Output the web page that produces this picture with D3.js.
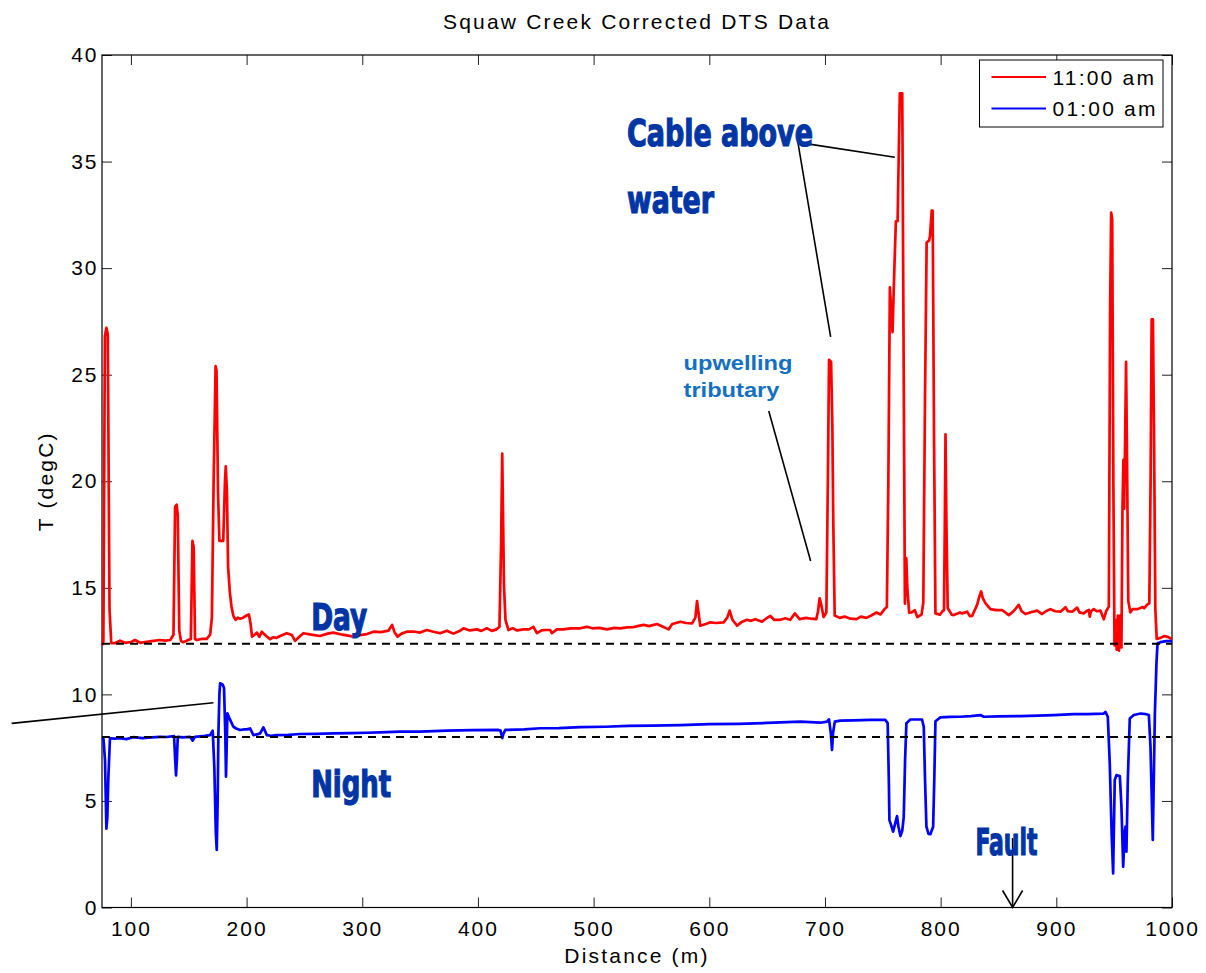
<!DOCTYPE html>
<html>
<head>
<meta charset="utf-8">
<script src="https://cdn.jsdelivr.net/npm/d3@7"></script>
<style>
  html, body { margin: 0; padding: 0; background: #fff; }
  svg { display: block; }
  .axis text { font-family: 'Liberation Sans', Arial, sans-serif; font-size: 21px; letter-spacing: 2px; fill: #000; }
  .axis line { stroke: #222; }
  .axis path { display: none; }
  .label { font-family: 'Liberation Sans', Arial, sans-serif; font-size: 21px; letter-spacing: 2.2px; fill: #000; }
  .note { font-family: 'DejaVu Sans Condensed', 'Liberation Sans Narrow', 'Liberation Sans', sans-serif; font-weight: bold; font-stretch: condensed; fill: #0035a5; stroke: #0035a5; stroke-width: 1.2px; font-size: 38px; }
  .note--small { font-family: 'Liberation Sans', Arial, sans-serif; font-weight: bold; fill: #1470c0; font-size: 21px; }
</style>
</head>
<body>
<svg id="chart"></svg>
<script>
// distance (m), temperature (degC)
const dayProfile = [
  [75, 12.3], [76.2, 12.5], [77.5, 26.8], [78.8, 27.2], [80, 26.9], [81.5, 14], [83, 12.4], [86, 12.4],
  [90.5, 12.52], [95, 12.42], [100, 12.45], [103.5, 12.55], [108, 12.42], [113.7, 12.47], [118, 12.5],
  [125, 12.55], [130, 12.52], [134, 12.55], [136.8, 12.8], [138.2, 18.8], [139.5, 18.9], [140.5, 18.4],
  [141.8, 13], [143.3, 12.5], [145.3, 12.45], [149.6, 12.55], [151.8, 12.6], [153.2, 17.2], [154.3, 16.9],
  [155.4, 12.6], [157, 12.55], [161, 12.6], [165.5, 12.6], [168.5, 12.8], [170, 13.6], [171.5, 20],
  [173.2, 25.4], [174, 25.2], [175.3, 19.5], [176.5, 17.2], [179.8, 17.2], [181.3, 20], [182, 20.7],
  [183, 19.5], [184, 16], [185.5, 14.8], [187, 14.1], [188.5, 13.7], [190.5, 13.5], [192.5, 13.6],
  [194.5, 13.55], [197, 13.6], [200, 13.7], [202, 13.75], [203.5, 13.3], [204.7, 12.71], [207, 12.8],
  [209, 12.9], [211, 12.7], [213.1, 12.94], [216, 12.79], [220.3, 12.59], [223.2, 12.68], [226, 12.65],
  [229, 12.74], [234.7, 12.87], [239.1, 12.79], [241.9, 12.51], [246.3, 12.74], [249.1, 12.87],
  [256, 12.8], [263.5, 12.74], [270, 12.85], [275, 12.9], [283, 12.8], [292.4, 12.71], [298, 12.78],
  [304, 12.83], [309.7, 12.94], [316, 12.92], [322.6, 12.99], [325.8, 13.26], [328, 12.9], [330.5, 12.71],
  [334, 12.85], [338.5, 12.94], [344.3, 12.95], [350, 12.9], [355.8, 13.02], [361.5, 12.94], [367.3, 12.87],
  [373.1, 12.99], [378.8, 12.85], [384.6, 12.99], [387.5, 13.1], [393, 13.0], [399.1, 13.05], [403, 12.98],
  [407.7, 13.1], [412, 12.98], [416, 13.05], [418.6, 13.17], [420, 17], [421, 21.3], [421.8, 18],
  [422.5, 15.1], [423.8, 13.5], [426.4, 13.02], [430, 13.1], [434, 13.0], [439.4, 13.05], [444, 13.05],
  [448, 13.17], [451, 12.87], [455, 13.0], [458, 13.02], [462.5, 13.02], [463.9, 12.87], [468.3, 13.05],
  [474, 13.05], [480, 13.1], [488.4, 13.1], [494.2, 13.17], [499, 13.1], [505, 13.12], [511.5, 13.05],
  [518, 13.12], [523, 13.1], [528.8, 13.14], [534, 13.15], [538, 13.2], [543.2, 13.26], [548, 13.2],
  [554.7, 13.3], [559, 13.2], [564.8, 13.05], [568, 13.3], [575, 13.41], [580, 13.35], [585.1, 13.33],
  [588, 13.6], [589.4, 14.38], [590.5, 13.9], [592.2, 13.22], [597, 13.3], [600.9, 13.38], [606, 13.35],
  [612.4, 13.38], [615.5, 13.6], [617.6, 13.93], [620, 13.5], [624, 13.22], [628, 13.4], [632.6, 13.5],
  [636, 13.45], [639.8, 13.53], [645.6, 13.41], [649, 13.55], [652.8, 13.68], [656, 13.5], [661.4, 13.5],
  [665.7, 13.57], [670, 13.5], [674, 13.8], [678, 13.53], [683.8, 13.59], [688, 13.55], [692.5, 13.53],
  [694, 13.9], [695.4, 14.51], [696.8, 14.2], [698.8, 13.63], [701.2, 13.84], [702.5, 20], [703.5, 25.7],
  [705.3, 25.6], [706.4, 22.5], [707.2, 18], [708.4, 13.7], [712.7, 13.59], [717, 13.65], [722, 13.55],
  [727.2, 13.53], [731, 13.65], [735.8, 13.59], [740, 13.7], [744.5, 13.84], [748, 13.75], [751.5, 14.0],
  [753.5, 14.1], [754.8, 20], [756.1, 29.1], [758.4, 27], [760, 30], [761.3, 32.2], [762.8, 32.2],
  [764, 36], [764.7, 38.2], [766.8, 38.2], [767.8, 28], [769.1, 14.26], [770.3, 16.4], [771.2, 15],
  [772.8, 13.84], [775, 13.85], [777.7, 13.95], [779.8, 13.63], [783.5, 13.74], [785, 14.3], [786.5, 24],
  [787.9, 31.2], [790, 31.3], [790.8, 31.5], [792.3, 32.7], [793.1, 32.7], [794.3, 22], [795.5, 13.8],
  [799.4, 13.74], [801.2, 13.88], [802.9, 13.95], [803.6, 18], [804.2, 22.2], [805, 18], [806.1, 14.05],
  [809.5, 13.74], [811.3, 13.72], [816.8, 13.84], [818.5, 13.8], [822.9, 13.88], [825.4, 13.67],
  [827.2, 13.68], [831.5, 14.2], [833.5, 14.6], [835, 14.83], [836.5, 14.5], [838.7, 14.28], [843, 14.0],
  [848, 13.95], [853.1, 13.96], [858.9, 13.72], [863, 13.9], [867.5, 14.2], [870, 13.9], [873.3, 13.77],
  [878, 13.85], [883.4, 13.93], [887.7, 13.77], [891, 13.9], [894.9, 14.0], [899, 13.9], [903.6, 13.88],
  [907.9, 14.09], [910, 13.9], [913.7, 13.88], [918, 14.07], [920, 13.85], [923.7, 13.8], [926, 13.9],
  [928.1, 13.96], [928.9, 13.65], [930, 13.9], [932.4, 14.0], [935, 13.9], [938.2, 13.93], [941, 13.52],
  [943, 13.9], [945.4, 14.12], [946.5, 28], [947.4, 32.6], [948.3, 32.3], [949.3, 20], [950.3, 12.3],
  [951.2, 13.5], [952.2, 12.1], [953.2, 13.7], [954.2, 12.05], [955.3, 13.7], [956.3, 12.2], [957.2, 18.8],
  [958, 21], [958.6, 18.7], [959.5, 22], [960.3, 25.6], [961.3, 20], [962.2, 14.4], [963.9, 13.85],
  [966, 14.0], [970.3, 14.0], [974.7, 14.1], [976, 14.05], [978.4, 14.2], [980.4, 14.28], [981.5, 20],
  [982.4, 27.6], [983.5, 27.6], [984.5, 22], [985.6, 14], [986.8, 12.6], [990, 12.65], [993.4, 12.74],
  [996, 12.7], [1000, 12.6]
];

const nightProfile = [
  [75, 7.95], [76.3, 7.9], [77.6, 6.9], [78.8, 3.7], [79.6, 4.2], [80.5, 6.1], [81.9, 7.94], [86, 7.92],
  [90.6, 7.94], [96, 7.9], [102.1, 7.99], [110, 7.95], [118, 7.98], [125.2, 8.01], [131, 8.0],
  [137.3, 8.04], [138.2, 7], [139, 6.2], [139.8, 7], [140.5, 8.01], [145, 7.98], [151.1, 8.01],
  [153.4, 7.83], [155.4, 8.01], [160, 8.03], [164, 8.05], [168.4, 8.09], [170.7, 8.3], [172.1, 6.6],
  [173.4, 3.5], [174.2, 2.7], [175, 5], [175.6, 8.1], [176.5, 10], [177.1, 10.52], [179.4, 10.45],
  [180.5, 10.3], [181.6, 8.1], [182.2, 6.14], [183.4, 9.11], [185, 8.9], [188.6, 8.48], [191, 8.4],
  [194.4, 8.33], [198, 8.36], [200.2, 8.36], [203, 8.4], [205.9, 8.09], [209, 8.12], [211.7, 8.17],
  [214.5, 8.45], [217.5, 8.09], [221, 8.06], [226.1, 8.09], [236, 8.1], [246.3, 8.14], [260, 8.15],
  [275, 8.17], [290, 8.18], [303.9, 8.2], [315.4, 8.22], [332.7, 8.25], [350, 8.25], [373.1, 8.3],
  [395, 8.32], [417.8, 8.33], [419.5, 8.3], [421, 7.95], [422, 8.15], [423.6, 8.33], [440, 8.36],
  [453.8, 8.41], [470, 8.42], [488.4, 8.46], [510, 8.48], [530, 8.52], [550, 8.53], [575, 8.56],
  [600, 8.6], [625, 8.62], [650, 8.66], [678.7, 8.72], [696, 8.67], [701.8, 8.72], [703.5, 8.83],
  [705, 8.2], [706.1, 7.4], [707, 8.2], [708.5, 8.72], [713.3, 8.77], [724.8, 8.78], [739.2, 8.8],
  [752.2, 8.8], [754.2, 8.65], [755.2, 6], [755.7, 4.1], [757, 3.9], [758.9, 3.56], [760.5, 3.9],
  [762.3, 4.29], [763.5, 3.8], [765.2, 3.35], [766.8, 3.6], [768.1, 4.25], [769.3, 7], [770.4, 8.65],
  [773.8, 8.82], [783.9, 8.82], [785.4, 8.48], [786.5, 6], [787.7, 3.79], [789.5, 3.45], [791.1, 3.44],
  [793.5, 3.79], [794.5, 6], [795.5, 8.74], [799.8, 8.92], [808, 8.94], [817, 8.95], [826, 8.98],
  [834.4, 9.03], [837.2, 8.95], [850, 8.97], [869, 8.98], [884, 9.0], [897.8, 9.03], [915.1, 9.07],
  [926.7, 9.07], [941, 9.1], [942.5, 9.18], [944.5, 8.95], [946.2, 6.77], [947.8, 3.5], [949.1, 1.6],
  [950.5, 5.98], [952, 6.21], [954.9, 6.17], [956.3, 4.73], [957.8, 1.91], [959, 3.5], [959.8, 3.79],
  [960.6, 2.62], [961.8, 5.98], [963.5, 8.87], [967, 9.03], [972.8, 9.1], [977, 9.08], [980, 9.03],
  [981.4, 7.55], [983.4, 3.17], [985.2, 9.1], [986.6, 11.5], [987.5, 12.4], [990, 12.45], [995, 12.5],
  [1000, 12.5]
];

const xTicks = [100, 200, 300, 400, 500, 600, 700, 800, 900, 1000];
const yTicks = [0, 5, 10, 15, 20, 25, 30, 35, 40];
const refLevels = [12.37, 8.0];
const seriesNames = ['11:00 am', '01:00 am'];
const seriesColors = ['#ff0000', '#0000ff'];

const bigNotes = [
  { text: 'Cable above', d: 528.8, t: 35.75, w: 186 },
  { text: 'water', d: 528.8, t: 32.59, w: 87 },
  { text: 'Day', d: 255.8, t: 13.0, w: 56 },
  { text: 'Night', d: 255.8, t: 5.19, w: 80 },
  { text: 'Fault', d: 830.1, t: 2.46, w: 62 }
];
const smallNotes = [
  { text: 'upwelling', d: 577.7, t: 25.2, w: 109 },
  { text: 'tributary', d: 577.7, t: 23.97, w: 96 }
];
const leaders = [
  [[676.6, 35.9], [760.4, 35.2]],
  [[676.6, 35.9], [704.9, 26.77]],
  [[651.4, 23.3], [687.6, 16.26]],
  [[-3.1, 8.64], [171.3, 9.61]]
];
const faultArrow = { d: 862.2, top: 3.26, bottom: 0 };

const W = 1206, H = 973;
const margin = { top: 55, right: 34, bottom: 65.5, left: 102 };

const svg = d3.select('#chart').attr('width', W).attr('height', H);

const x = d3.scaleLinear().domain([75, 1000]).range([margin.left, W - margin.right]);
const y = d3.scaleLinear().domain([0, 40]).range([H - margin.bottom, margin.top]);

// box ticks (MATLAB style, pointing inward)
svg.append('g').attr('class', 'axis')
  .attr('transform', `translate(0,${H - margin.bottom})`)
  .call(d3.axisBottom(x).tickValues(xTicks).tickFormat(d3.format('d'))
    .tickSizeInner(-10).tickSizeOuter(0).tickPadding(14));
svg.append('g').attr('class', 'axis')
  .attr('transform', `translate(0,${margin.top})`)
  .call(d3.axisTop(x).tickValues(xTicks).tickSizeInner(-10).tickSizeOuter(0).tickFormat(''));
svg.append('g').attr('class', 'axis')
  .attr('transform', `translate(${margin.left},0)`)
  .call(d3.axisLeft(y).tickValues(yTicks).tickSizeInner(-10).tickSizeOuter(0).tickPadding(3.5));
svg.append('g').attr('class', 'axis')
  .attr('transform', `translate(${W - margin.right},0)`)
  .call(d3.axisRight(y).tickValues(yTicks).tickSizeInner(-10).tickSizeOuter(0).tickFormat(''));

svg.append('rect')
  .attr('x', margin.left).attr('y', margin.top)
  .attr('width', W - margin.left - margin.right)
  .attr('height', H - margin.top - margin.bottom)
  .attr('fill', 'none').attr('stroke', '#000').attr('stroke-width', 1.2);

const line = d3.line().x((d) => x(d[0])).y((d) => y(d[1]));

[dayProfile, nightProfile].forEach((series, i) => {
  svg.append('path')
    .datum(series)
    .attr('d', line)
    .attr('fill', 'none')
    .attr('stroke', seriesColors[i])
    .attr('stroke-width', 2.7)
    .attr('stroke-linejoin', 'round');
});

svg.append('g').selectAll('line').data(refLevels).join('line')
  .attr('x1', x(75)).attr('x2', x(1000))
  .attr('y1', (d) => y(d)).attr('y2', (d) => y(d))
  .attr('stroke', '#000').attr('stroke-width', 2).attr('stroke-dasharray', '8,6');

// annotations
svg.append('g').selectAll('line').data(leaders).join('line')
  .attr('x1', (d) => x(d[0][0])).attr('y1', (d) => y(d[0][1]))
  .attr('x2', (d) => x(d[1][0])).attr('y2', (d) => y(d[1][1]))
  .attr('stroke', '#000').attr('stroke-width', 1.6);

svg.append('line')
  .attr('x1', x(faultArrow.d)).attr('x2', x(faultArrow.d))
  .attr('y1', y(faultArrow.top)).attr('y2', y(faultArrow.bottom))
  .attr('stroke', '#000').attr('stroke-width', 1.6);
svg.append('path')
  .attr('d', `M${x(faultArrow.d) - 10},${y(faultArrow.bottom) - 17} L${x(faultArrow.d)},${y(faultArrow.bottom)} L${x(faultArrow.d) + 10},${y(faultArrow.bottom) - 17}`)
  .attr('fill', 'none').attr('stroke', '#000').attr('stroke-width', 1.6);

svg.append('g').selectAll('text').data(bigNotes).join('text')
  .attr('class', 'note')
  .attr('x', (d) => x(d.d)).attr('y', (d) => y(d.t))
  .attr('textLength', (d) => d.w).attr('lengthAdjust', 'spacingAndGlyphs')
  .text((d) => d.text);

svg.append('g').selectAll('text').data(smallNotes).join('text')
  .attr('class', 'note--small')
  .attr('x', (d) => x(d.d)).attr('y', (d) => y(d.t))
  .attr('textLength', (d) => d.w).attr('lengthAdjust', 'spacingAndGlyphs')
  .text((d) => d.text);

// legend
const legend = svg.append('g').attr('transform', `translate(${W - margin.right - 192.5},${margin.top + 5})`);
legend.append('rect')
  .attr('width', 183.5).attr('height', 67)
  .attr('fill', '#fff').attr('stroke', '#000').attr('stroke-width', 1);
const rows = legend.selectAll('g').data(seriesNames).join('g')
  .attr('transform', (d, i) => `translate(0,${17 + i * 31.5})`);
rows.append('line')
  .attr('x1', 12).attr('x2', 66.5)
  .attr('stroke', (d, i) => seriesColors[i]).attr('stroke-width', 2.2);
rows.append('text')
  .attr('class', 'label')
  .attr('x', 73).attr('y', 7.5)
  .text((d) => d);

// titles
svg.append('text').attr('class', 'label')
  .attr('x', (margin.left + W - margin.right) / 2).attr('y', 29)
  .attr('text-anchor', 'middle')
  .text('Squaw Creek Corrected DTS Data');
svg.append('text').attr('class', 'label')
  .attr('x', (margin.left + W - margin.right) / 2).attr('y', 963)
  .attr('text-anchor', 'middle')
  .text('Distance (m)');
svg.append('text').attr('class', 'label')
  .attr('transform', `translate(53,${(margin.top + H - margin.bottom) / 2}) rotate(-90)`)
  .attr('text-anchor', 'middle')
  .text('T (degC)');
</script>
</body>
</html>
